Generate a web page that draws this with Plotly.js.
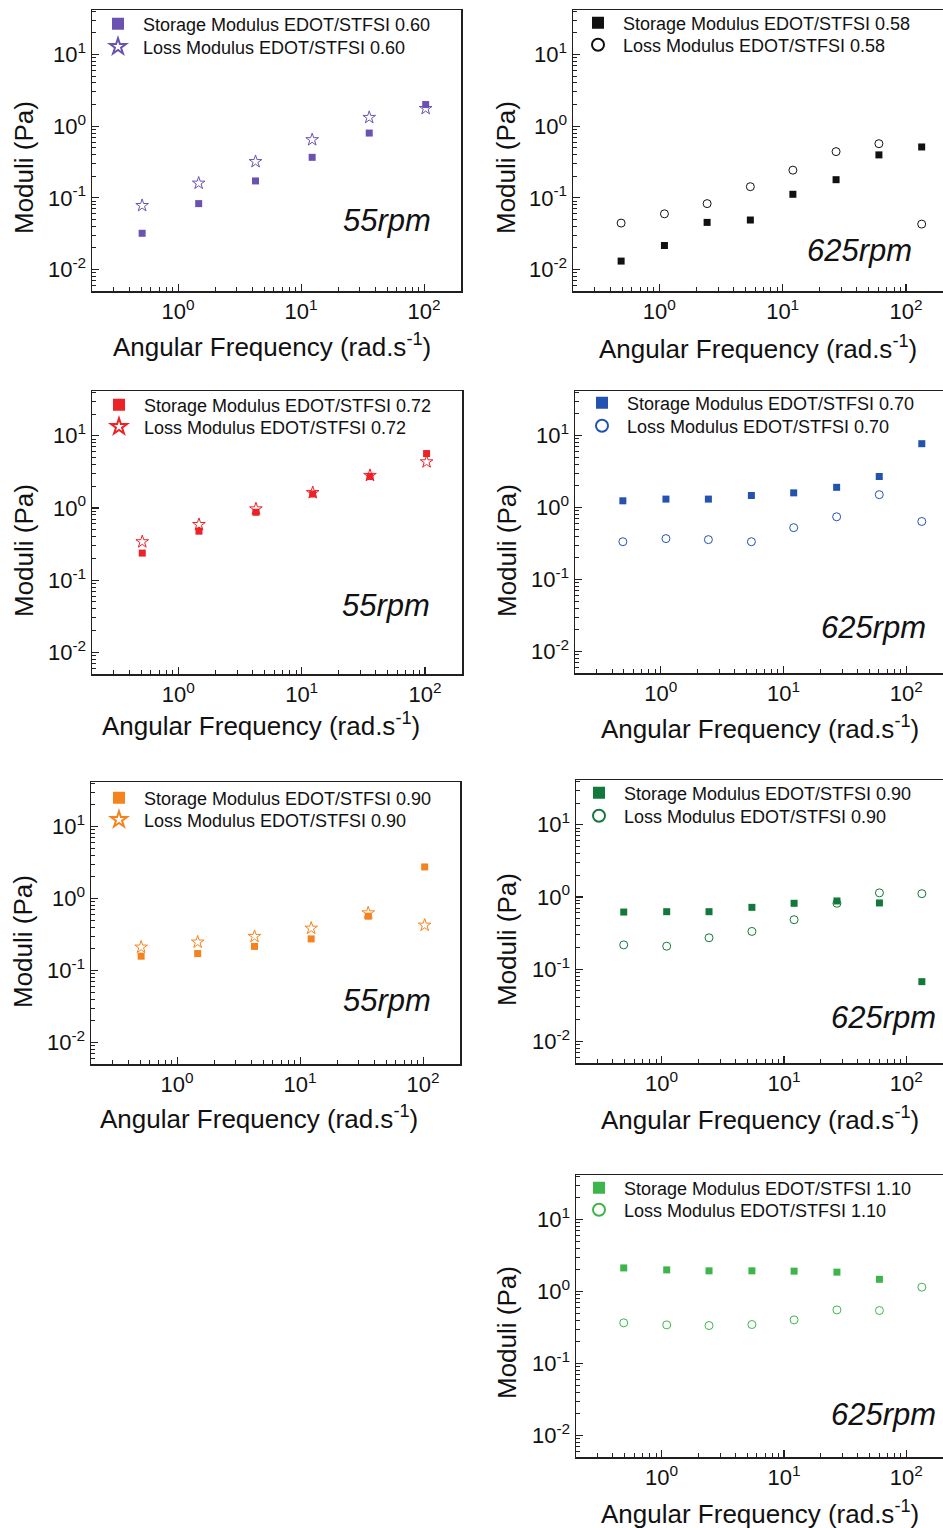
<!DOCTYPE html>
<html>
<head>
<meta charset="utf-8">
<script src="https://cdn.plot.ly/plotly-3.0.1.min.js"></script>
<style>
html,body{margin:0;padding:0;background:#fff;}
#chart{width:943px;height:1528px;}
</style>
</head>
<body>
<div id="chart"></div>
<script>
// ---------- data ----------
const freq55 = [0.51, 1.47, 4.26, 12.3, 35.8, 103];
const freq625 = [0.49, 1.10, 2.44, 5.47, 12.1, 27.1, 60.3, 134];

const storage060 = [0.032, 0.083, 0.172, 0.367, 0.80, 2.0];
const loss060    = [0.078, 0.16, 0.32, 0.646, 1.32, 1.76];
const storage058 = [0.0131, 0.0216, 0.0454, 0.049, 0.112, 0.179, 0.397, 0.512];
const loss058    = [0.0444, 0.0598, 0.083, 0.143, 0.243, 0.441, 0.569, 0.043];
const storage072 = [0.237, 0.477, 0.871, 1.56, 2.73, 5.67];
const loss072    = [0.34, 0.589, 0.97, 1.63, 2.82, 4.35];
const storage070 = [1.24, 1.31, 1.31, 1.47, 1.60, 1.91, 2.70, 7.72];
const loss070    = [0.335, 0.37, 0.358, 0.335, 0.525, 0.744, 1.51, 0.64];
const storage090_55  = [0.158, 0.172, 0.216, 0.275, 0.568, 2.75];
const loss090_55     = [0.211, 0.248, 0.297, 0.387, 0.632, 0.426];
const storage090_625 = [0.618, 0.625, 0.625, 0.718, 0.817, 0.88, 0.826, 0.0671];
const loss090_625    = [0.217, 0.208, 0.272, 0.333, 0.484, 0.817, 1.14, 1.11];
const storage110 = [2.13, 2.0, 1.94, 1.94, 1.92, 1.86, 1.48];
const loss110    = [0.367, 0.344, 0.337, 0.348, 0.404, 0.556, 0.545, 1.15];

const storageNames = ["Storage Modulus EDOT/STFSI 0.60","Storage Modulus EDOT/STFSI 0.58","Storage Modulus EDOT/STFSI 0.72","Storage Modulus EDOT/STFSI 0.70","Storage Modulus EDOT/STFSI 0.90","Storage Modulus EDOT/STFSI 0.90","Storage Modulus EDOT/STFSI 1.10"];
const lossNames = ["Loss Modulus EDOT/STFSI 0.60","Loss Modulus EDOT/STFSI 0.58","Loss Modulus EDOT/STFSI 0.72","Loss Modulus EDOT/STFSI 0.70","Loss Modulus EDOT/STFSI 0.90","Loss Modulus EDOT/STFSI 0.90","Loss Modulus EDOT/STFSI 1.10"];
const speedLabels = ["55rpm","625rpm","55rpm","625rpm","55rpm","625rpm","625rpm"];

const xTickVals = [1, 10, 100];
const xTickText = ["10<sup>0</sup>","10<sup>1</sup>","10<sup>2</sup>"];
const yTickVals = [0.01, 0.1, 1, 10];
const yTickText = ["10<sup>-2</sup>","10<sup>-1</sup>","10<sup>0</sup>","10<sup>1</sup>"];
const xTitle = "Angular Frequency (rad.s<sup>-1</sup>)";
const yTitle = "Moduli (Pa)";

// ---------- layout helpers ----------
const W = 943, H = 1528;
const FONT = "Liberation Sans, Arial, Helvetica, sans-serif";
const px = v => v / W;
const py = v => 1 - v / H;

// box: [left, right, top, bottom] px; leg: [markerX, row1Y, row2Y]; lab: speed label centre;
// xt / yt: axis title centres
const panels = [
  {freq: freq55,  s: storage060, l: loss060, color: "#6a52b3", lossSym: "star-open",   box: [92, 461, 10, 291],   leg: [118, 24, 47],   lab: [387, 221],  xt: [272, 345],  yt: [24, 168]},
  {freq: freq625, s: storage058, l: loss058, color: "#111111", lossSym: "circle-open", box: [573, 943, 10, 291],  leg: [598, 23, 45],   lab: [859, 251],  xt: [758, 347],  yt: [506, 168]},
  {freq: freq55,  s: storage072, l: loss072, color: "#ec2227", lossSym: "star-open",   box: [92, 462, 391, 674],  leg: [119, 405, 427], lab: [386, 606],  xt: [261, 725],  yt: [24, 551]},
  {freq: freq625, s: storage070, l: loss070, color: "#2352b0", lossSym: "circle-open", box: [575, 943, 391, 673], leg: [602, 403, 426], lab: [873, 628],  xt: [760, 727],  yt: [507, 551]},
  {freq: freq55,  s: storage090_55,  l: loss090_55,  color: "#f5821f", lossSym: "star-open",   box: [91, 460, 782, 1064],  leg: [119, 798, 820],  lab: [387, 1000], xt: [259, 1117], yt: [23, 942]},
  {freq: freq625, s: storage090_625, l: loss090_625, color: "#12793a", lossSym: "circle-open", box: [576, 943, 780, 1063], leg: [599, 793, 816],  lab: [883, 1017], xt: [760, 1118], yt: [507, 940]},
  {freq: freq625, s: storage110, l: loss110, color: "#3db54a", lossSym: "circle-open", box: [576, 943, 1175, 1457], leg: [599, 1188, 1210], lab: [883, 1414], xt: [760, 1512], yt: [507, 1333]}
];

const traces = [];
const layout = {
  width: W, height: H,
  margin: {l: 0, r: 0, t: 0, b: 0},
  paper_bgcolor: "#ffffff",
  plot_bgcolor: "#ffffff",
  font: {family: FONT, color: "#111111"},
  showlegend: true,
  annotations: []
};

const lineColor = "#231f20";

panels.forEach((p, i) => {
  const n = i + 1;
  const xa = n === 1 ? "x" : "x" + n;
  const ya = n === 1 ? "y" : "y" + n;
  const legS = "legend" + (2 * i === 0 ? "" : (2 * i + 1));
  const legL = "legend" + (2 * i + 2);
  const sFreq = p.freq.slice(0, p.s.length);

  traces.push({
    type: "scatter", mode: "markers", x: sFreq, y: p.s, xaxis: xa, yaxis: ya,
    name: storageNames[i], legend: legS,
    marker: {symbol: "square", size: 7, color: p.color, line: {width: 0}}
  });
  traces.push({
    type: "scatter", mode: "markers", x: p.freq.slice(0, p.l.length), y: p.l, xaxis: xa, yaxis: ya,
    name: lossNames[i], legend: legL,
    marker: {symbol: p.lossSym, size: p.lossSym === "star-open" ? 9.5 : 8, color: p.color, line: {width: 1, color: p.color}}
  });

  const [x0, x1, y0, y1] = p.box;
  const axCommon = {
    showline: true, linecolor: lineColor, linewidth: 1.5, mirror: true,
    showgrid: false, zeroline: false,
    ticks: "inside", ticklen: 7, tickwidth: 1.2, tickcolor: lineColor,
    minor: {ticks: "inside", ticklen: 4, tickwidth: 1, tickcolor: lineColor, dtick: "D1", showgrid: false},
    tickfont: {size: 22, family: FONT, color: "#111111"},
    type: "log"
  };
  layout["xaxis" + (n === 1 ? "" : n)] = Object.assign({}, axCommon, {
    domain: [px(x0), px(x1)], anchor: ya,
    range: [-0.7, 2.3],
    tickmode: "array", tickvals: xTickVals, ticktext: xTickText
  });
  layout["yaxis" + (n === 1 ? "" : n)] = Object.assign({}, axCommon, {
    domain: [py(y1), py(y0)], anchor: xa,
    range: [-2.3, 1.62],
    tickmode: "array", tickvals: yTickVals, ticktext: yTickText
  });

  const legCommon = {
    xanchor: "left", yanchor: "middle", bgcolor: "rgba(0,0,0,0)", borderwidth: 0,
    font: {size: 18, family: FONT, color: "#111111"}, itemsizing: "constant", itemwidth: 40,
    itemclick: false, itemdoubleclick: false
  };
  layout[legS] = Object.assign({}, legCommon, {x: px(p.leg[0] - 25), y: py(p.leg[1])});
  layout[legL] = Object.assign({}, legCommon, {x: px(p.leg[0] - 25), y: py(p.leg[2])});

  layout.annotations.push({
    xref: "paper", yref: "paper", x: px(p.lab[0]), y: py(p.lab[1]),
    xanchor: "center", yanchor: "middle", showarrow: false,
    text: "<i>" + speedLabels[i] + "</i>",
    font: {size: 31, family: FONT, color: "#111111"}
  });
  // axis titles
  layout.annotations.push({
    xref: "paper", yref: "paper", x: px(p.xt[0]), y: py(p.xt[1]),
    xanchor: "center", yanchor: "middle", showarrow: false,
    text: xTitle, font: {size: 26, family: FONT, color: "#111111"}
  });
  layout.annotations.push({
    xref: "paper", yref: "paper", x: px(p.yt[0]), y: py(p.yt[1]),
    xanchor: "center", yanchor: "middle", showarrow: false, textangle: -90,
    text: yTitle, font: {size: 26, family: FONT, color: "#111111"}
  });
});

Plotly.newPlot("chart", traces, layout, {staticPlot: true, displayModeBar: false});
</script>
</body>
</html>
